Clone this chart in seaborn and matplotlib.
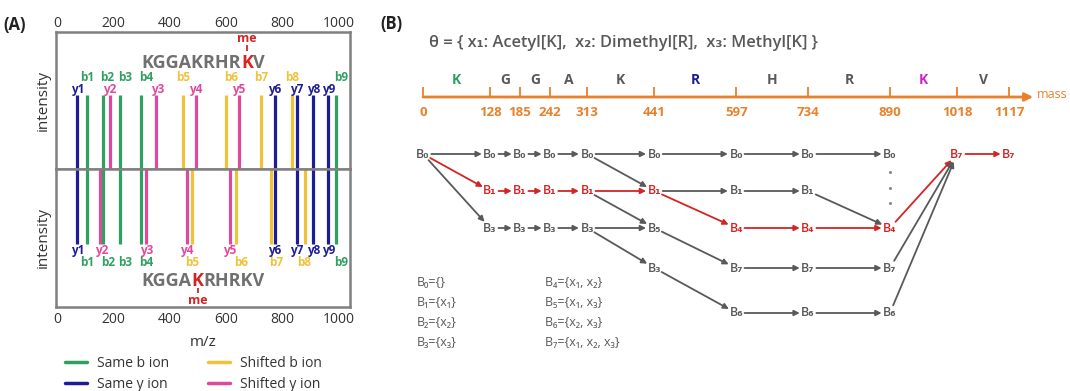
import matplotlib
matplotlib.use("Agg")
import matplotlib.pyplot as plt
import seaborn as sns
import pandas as pd
from matplotlib.lines import Line2D

sns.set_theme(style="white")
plt.rcParams["font.family"] = ["Open Sans", "DejaVu Sans"]

# -----------------------------
# Panel A data: fragment ions
# -----------------------------
top_ions = ["y1", "b1", "b2", "y2", "b3", "b4", "y3", "b5", "y4", "b6",
            "y5", "b7", "y6", "b8", "y7", "y8", "y9", "b9"]
top_mz = [72, 105, 162, 188, 223, 297, 349, 446, 492, 598,
          644, 725, 773, 833, 850, 909, 962, 989]
top_kind = ["same_y", "same_b", "same_b", "shift_y", "same_b", "same_b", "shift_y",
            "shift_b", "shift_y", "shift_b", "shift_y", "shift_b", "same_y",
            "shift_b", "same_y", "same_y", "same_y", "same_b"]
top_intensity = [1, 1, 1, 1, 1, 1, 1, 1, 1, 1, 1, 1, 1, 1, 1, 1, 1, 1]

bottom_ions = ["y1", "b1", "y2", "b2", "b3", "b4", "y3", "y4", "b5", "y5",
               "b6", "b7", "y6", "y7", "b8", "y8", "y9", "b9"]
bottom_mz = [72, 105, 152, 162, 224, 297, 316, 460, 480, 613,
             635, 758, 773, 850, 878, 909, 962, 989]
bottom_kind = ["same_y", "same_b", "shift_y", "same_b", "same_b", "same_b", "shift_y",
               "shift_y", "shift_b", "shift_y", "shift_b", "shift_b", "same_y",
               "same_y", "shift_b", "same_y", "same_y", "same_b"]
bottom_intensity = [1, 1, 1, 1, 1, 1, 1, 1, 1, 1, 1, 1, 1, 1, 1, 1, 1, 1]

# labels nudged right so neighbours don't collide
top_label_shift = {"b2": 16, "b3": 20, "b4": 18, "b6": 18, "b9": 20, "y3": 6}
bottom_label_shift = {"b2": 18, "b3": 18, "b4": 18, "b6": 18, "b7": 18, "b9": 20, "y2": 6}

peptide = "KGGAKRHRKV"
top_site = 8       # methylated K, top spectrum
bottom_site = 4    # methylated K, bottom spectrum

kind_colors = {"same_b": "#30a060", "same_y": "#1c1c96",
               "shift_b": "#f0c23a", "shift_y": "#e0489c"}
kind_labels = {"same_b": "Same b ion", "same_y": "Same y ion",
               "shift_b": "Shifted b ion", "shift_y": "Shifted y ion"}

# -----------------------------
# Panel B data: mass ladder + state graph
# -----------------------------
residues = list("KGGAKRHRKV")
residue_colors = ["#2e9e5e", "#595959", "#595959", "#595959", "#595959",
                  "#1c1c96", "#595959", "#595959", "#cc22cc", "#595959"]
prefix_mass = [0, 128, 185, 242, 313, 441, 597, 734, 890, 1018, 1117]

# nodes: (column, row, state index, on best path)
nodes = [(c, 0, 0, False) for c in range(0, 9)] + [(9, 0, 7, True), (10, 0, 7, True)]
nodes += [(1, 1, 1, True), (2, 1, 1, True), (3, 1, 1, True), (4, 1, 1, True),
          (5, 1, 1, True), (6, 1, 1, False), (7, 1, 1, False)]
nodes += [(1, 2, 3, False), (2, 2, 3, False), (3, 2, 3, False), (4, 2, 3, False),
          (5, 2, 5, False), (6, 2, 4, True), (7, 2, 4, True), (8, 2, 4, True)]
nodes += [(5, 3, 3, False), (6, 3, 7, False), (7, 3, 7, False), (8, 3, 7, False)]
nodes += [(6, 4, 6, False), (7, 4, 6, False), (8, 4, 6, False)]

# edges: (col, row) -> (col, row), on best path
edges = [((c, 0), (c + 1, 0), False) for c in range(0, 8)]
edges += [((0, 0), (1, 1), True), ((0, 0), (1, 2), False),
          ((1, 1), (2, 1), True), ((2, 1), (3, 1), True), ((3, 1), (4, 1), True),
          ((4, 1), (5, 1), True), ((4, 0), (5, 1), False),
          ((5, 1), (6, 1), False), ((6, 1), (7, 1), False),
          ((5, 1), (6, 2), True), ((7, 1), (8, 2), False),
          ((6, 2), (7, 2), True), ((7, 2), (8, 2), True),
          ((8, 2), (9, 0), True), ((9, 0), (10, 0), True),
          ((1, 2), (2, 2), False), ((2, 2), (3, 2), False), ((3, 2), (4, 2), False),
          ((4, 1), (5, 2), False), ((4, 2), (5, 2), False), ((4, 2), (5, 3), False),
          ((5, 2), (6, 3), False), ((5, 3), (6, 4), False),
          ((6, 3), (7, 3), False), ((7, 3), (8, 3), False),
          ((6, 4), (7, 4), False), ((7, 4), (8, 4), False),
          ((8, 3), (9, 0), False), ((8, 4), (9, 0), False)]

state_sets = ["{}", "{x₁}", "{x₂}", "{x₃}", "{x₁, x₂}", "{x₁, x₃}", "{x₂, x₃}", "{x₁, x₂, x₃}"]

row_y = [154, 191, 228, 268, 313]
sub = "₀₁₂₃₄₅₆₇"

GRAY = "#595959"
RED = "#d42424"
ORANGE = "#e8812c"

W, H = 1070, 391
fig = plt.figure(figsize=(W / 100, H / 100), dpi=100)


def frac(x0, y0, x1, y1):
    return [x0 / W, 1 - y1 / H, (x1 - x0) / W, (y1 - y0) / H]


# -----------------------------
# Panel A
# -----------------------------
ax_top = fig.add_axes(frac(56, 32, 350, 169))
ax_bot = fig.add_axes(frac(56, 169, 350, 307))
top = pd.DataFrame({"ion": top_ions, "mz": top_mz, "kind": top_kind, "intensity": top_intensity})
bot = pd.DataFrame({"ion": bottom_ions, "mz": bottom_mz, "kind": bottom_kind, "intensity": bottom_intensity})

ymax = 1.85
for ax, df, inverted, shift in [(ax_top, top, False, top_label_shift),
                                (ax_bot, bot, True, bottom_label_shift)]:
    ax.vlines(df["mz"], 0, df["intensity"], colors=[kind_colors[k] for k in df["kind"]], lw=2.3)
    ax.set_xlim(-4, 1039)
    ax.set_ylim((ymax, 0) if inverted else (0, ymax))
    ax.set_yticks([])
    ax.set_xticks([0, 200, 400, 600, 800, 1000])
    ax.tick_params(axis="x", length=0, pad=(3.5 if inverted else 0.5),
                   labelsize=10, labelcolor="#333333")
    ax.set_ylabel("intensity", fontsize=11, color="#333333", labelpad=4)
    for s in ax.spines.values():
        s.set_color("#808080")
        s.set_linewidth(1.8)
    for _, r in df.iterrows():
        is_b = r["ion"].startswith("b")
        yl = (1.24 if is_b else 1.08) if not inverted else (1.25 if is_b else 1.09)
        ax.text(r["mz"] + shift.get(r["ion"], 0), yl, r["ion"], ha="center", va="center",
                fontsize=8.5, fontweight="bold", color=kind_colors[r["kind"]])

ax_top.xaxis.tick_top()
ax_bot.set_xlabel("m/z", fontsize=11, color="#333333", labelpad=6)

fig.canvas.draw()
renderer = fig.canvas.get_renderer()


def draw_peptide(ax, base_px, site, bar_px, me_px):
    # lay out the sequence piece by piece so the modified K can be red
    inv = ax.transData.inverted()
    base_disp = H - base_px
    probe = ax.text(518, 0, peptide, ha="center", va="baseline", fontsize=13, fontweight="bold")
    bb = probe.get_window_extent(renderer)
    probe.remove()
    x_disp = bb.x0
    pieces = [(peptide[:site], "#707070"), (peptide[site], RED), (peptide[site + 1:], "#707070")]
    k_center = None
    for txt, col in pieces:
        xd, yd = inv.transform((x_disp, base_disp))
        t = ax.text(xd, yd, txt, ha="left", va="baseline", fontsize=13,
                    fontweight="bold", color=col)
        e = t.get_window_extent(renderer)
        if col == RED:
            k_center = (e.x0 + e.x1) / 2
        x_disp = e.x1
    # little tick joining K and its "me" tag
    (x0, y0), (x1, y1) = inv.transform([(k_center, H - bar_px[0]), (k_center, H - bar_px[1])])
    ax.plot([x0, x1], [y0, y1], color=RED, lw=1.3, solid_capstyle="butt")
    xd, yd = inv.transform((k_center, H - me_px))
    ax.text(xd, yd, "me", ha="center", va="center", fontsize=9, fontweight="bold", color=RED)


draw_peptide(ax_top, 68.5, top_site, (45, 51), 38)
draw_peptide(ax_bot, 286.5, bottom_site, (288, 293), 300)

fig.text(3 / W, 1 - 25 / H, "(A)", fontsize=12, fontweight="bold", va="center", color="#222222")

order = ["same_b", "same_y", "shift_b", "shift_y"]
handles = [Line2D([], [], color=kind_colors[k], lw=2.5) for k in order]
fig.legend(handles, [kind_labels[k] for k in order], ncol=2, loc="upper left",
           bbox_to_anchor=(65 / W, 1 - 356 / H), frameon=False, fontsize=10,
           handlelength=1.6, handletextpad=0.7, columnspacing=2.8,
           labelspacing=0.45, borderpad=0, borderaxespad=0, labelcolor="#333333")

# -----------------------------
# Panel B
# -----------------------------
k_px = (1009 - 423) / 1117
ax_b = fig.add_axes([380 / W, 0, 690 / W, 1])
ax_b.set_xlim((380 - 423) / k_px, (1070 - 423) / k_px)
ax_b.set_ylim(H, 0)
ax_b.axis("off")

fig.text(380 / W, 1 - 24 / H, "(B)", fontsize=12, fontweight="bold", va="center", color="#222222")
ax_b.text(11, 43, "θ = { x₁: Acetyl[K],  x₂: Dimethyl[R],  x₃: Methyl[K] }",
          fontsize=11.8, fontweight="semibold", color=GRAY, ha="left", va="center")

axis_y = 97
arrow_end = prefix_mass[-1] + 46
ax_b.annotate("", xy=(arrow_end, axis_y), xytext=(0, axis_y),
              arrowprops=dict(arrowstyle="-|>", color=ORANGE, lw=2, mutation_scale=12,
                              shrinkA=0, shrinkB=0))
ax_b.text(arrow_end + 8, axis_y - 3, "mass", fontsize=9, color=ORANGE, ha="left", va="center")
ax_b.vlines(prefix_mass, axis_y - 10, axis_y, colors=ORANGE, lw=1.3)
for m in prefix_mass:
    ax_b.text(m, 112, str(m), fontsize=9.5, fontweight="bold", color=ORANGE,
              ha="center", va="center")
for i, (aa, col) in enumerate(zip(residues, residue_colors)):
    mid = (prefix_mass[i] + prefix_mass[i + 1]) / 2
    ax_b.text(mid, 80, aa, fontsize=10, fontweight="bold", color=col, ha="center", va="center")

pos = {}
for c, r, s, best in nodes:
    x, y = prefix_mass[c], row_y[r]
    pos[(c, r)] = (x, y)
    ax_b.text(x, y, "B" + sub[s], fontsize=9, color=RED if best else GRAY,
              ha="center", va="center", fontweight="semibold")

for a, b, best in edges:
    ax_b.annotate("", xy=pos[b], xytext=pos[a],
                  arrowprops=dict(arrowstyle="-|>", color=RED if best else GRAY,
                                  lw=1.3, mutation_scale=8, shrinkA=6, shrinkB=6))

ax_b.plot([prefix_mass[8]] * 3, [172, 188, 203], ls="none", marker="o", ms=1.2, color="#888888")

for i, s in enumerate(state_sets):
    x = -11 if i < 4 else 233
    y = [283, 303, 322, 342][i % 4]
    ax_b.text(x, y, "B" + sub[i] + "=" + s, fontsize=9, color=GRAY, ha="left", va="center")

fig.savefig("out.png", dpi=100)
